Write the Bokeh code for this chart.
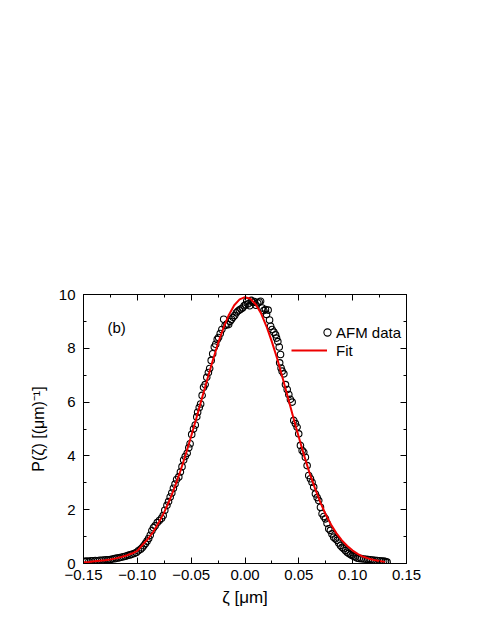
from bokeh.plotting import figure
from bokeh.models import (LinearAxis, FixedTicker, CustomJSTickFormatter, Legend, LegendItem,
                          Range1d, Label)
from bokeh.embed import file_html
from bokeh.resources import INLINE

# ---- data ----
afm_x = [-0.1490, -0.1470, -0.1450, -0.1430, -0.1410, -0.1390, -0.1370, -0.1350, -0.1330, -0.1310,
         -0.1290, -0.1270, -0.1250, -0.1230, -0.1210, -0.1190, -0.1170, -0.1150, -0.1130, -0.1110,
         -0.1090, -0.1070, -0.1050, -0.1030, -0.1010, -0.0990, -0.0970, -0.0955, -0.0940, -0.0925,
         -0.0910, -0.0895, -0.0880, -0.0865, -0.0850, -0.0835, -0.0815, -0.0795, -0.0775, -0.0760,
         -0.0745, -0.0725, -0.0710, -0.0695, -0.0680, -0.0665, -0.0650, -0.0635, -0.0615, -0.0600,
         -0.0585, -0.0570, -0.0555, -0.0537, -0.0522, -0.0510, -0.0495, -0.0478, -0.0462, -0.0448,
         -0.0440, -0.0425, -0.0412, -0.0398, -0.0385, -0.0370, -0.0355, -0.0340, -0.0328, -0.0314,
         -0.0300, -0.0285, -0.0272, -0.0258, -0.0245, -0.0230, -0.0215, -0.0198, -0.0185, -0.0168,
         -0.0152, -0.0138, -0.0125, -0.0110, -0.0095, -0.0080, -0.0066, -0.0052, -0.0038, -0.0022,
         -0.0008, 0.0006, 0.0016, 0.0030, 0.0045, 0.0060, 0.0075, 0.0088, 0.0102, 0.0118,
         0.0132, 0.0145, 0.0160, 0.0175, 0.0190, 0.0200, 0.0215, 0.0228, 0.0238, 0.0252,
         0.0268, 0.0284, 0.0293, 0.0305, 0.0318, 0.0330, 0.0322, 0.0335, 0.0345, 0.0361,
         0.0376, 0.0392, 0.0407, 0.0422, 0.0438, 0.0453, 0.0468, 0.0484, 0.0499, 0.0515,
         0.0531, 0.0546, 0.0561, 0.0577, 0.0592, 0.0608, 0.0623, 0.0638, 0.0654, 0.0670,
         0.0685, 0.0701, 0.0716, 0.0732, 0.0747, 0.0762, 0.0778, 0.0793, 0.0808, 0.0824,
         0.0840, 0.0856, 0.0871, 0.0887, 0.0902, 0.0918, 0.0933, 0.0949, 0.0965, 0.0980,
         0.0995, 0.1010, 0.1025, 0.1041, 0.1060, 0.1080, 0.1103, 0.1125, 0.1145, 0.1165,
         0.1185, 0.1205, 0.1227, 0.1250, 0.1270, 0.1288, 0.1305, 0.1320]
afm_y = [0.08, 0.09, 0.08, 0.10, 0.10, 0.11, 0.10, 0.12, 0.12, 0.13,
         0.14, 0.14, 0.15, 0.17, 0.18, 0.20, 0.21, 0.23, 0.25, 0.27,
         0.30, 0.32, 0.34, 0.37, 0.41, 0.47, 0.53, 0.58, 0.66, 0.74,
         0.83, 0.93, 1.05, 1.22, 1.33, 1.40, 1.52, 1.60, 1.68, 1.78,
         1.98, 2.16, 2.30, 2.47, 2.62, 2.80, 2.95, 3.12, 3.22, 3.40,
         3.60, 3.85, 3.98, 4.10, 4.30, 4.45, 4.80, 5.00, 5.15, 5.45,
         5.62, 5.80, 5.93, 6.25, 6.55, 6.65, 6.92, 7.10, 7.25, 7.55,
         7.80, 8.05, 8.15, 8.33, 8.40, 8.55, 8.70, 9.08, 8.85, 8.90,
         8.88, 9.00, 9.08, 9.15, 9.22, 9.32, 9.38, 9.42, 9.46, 9.50,
         9.58, 9.62, 9.75, 9.65, 9.58, 9.78, 9.70, 9.74, 9.60, 9.69,
         9.72, 9.75, 9.50, 9.40, 9.44, 9.26, 9.42, 9.05, 8.82, 8.70,
         8.60, 8.50, 8.38, 8.25, 8.05, 7.77, 7.46, 7.27, 7.15, 7.05,
         6.65, 6.47, 6.28, 6.10, 6.00, 5.32, 5.20, 5.07, 4.82, 4.39,
         4.20, 4.14, 3.95, 3.64, 3.27, 3.15, 3.02, 2.84, 2.59, 2.45,
         2.34, 2.09, 1.85, 1.75, 1.66, 1.50, 1.29, 1.23, 1.10, 0.98,
         0.92, 0.86, 0.76, 0.67, 0.60, 0.55, 0.48, 0.42, 0.37, 0.33,
         0.30, 0.27, 0.24, 0.20, 0.19, 0.18, 0.17, 0.16, 0.15, 0.14,
         0.13, 0.12, 0.11, 0.10, 0.09, 0.09, 0.07, 0.05]

fit_x = [-0.150, -0.145, -0.140, -0.135, -0.130, -0.125, -0.120, -0.115, -0.110, -0.105,
         -0.100, -0.095, -0.090, -0.085, -0.080, -0.075, -0.070, -0.065, -0.060, -0.055,
         -0.050, -0.045, -0.040, -0.035, -0.030, -0.025, -0.020, -0.015, -0.010, -0.005,
         0.000, 0.005, 0.010, 0.015, 0.020, 0.025, 0.030, 0.035, 0.040, 0.045,
         0.050, 0.055, 0.060, 0.065, 0.070, 0.075, 0.080, 0.085, 0.090, 0.095,
         0.100, 0.105, 0.110, 0.115, 0.120, 0.125, 0.130]
fit_y = [0.05, 0.06, 0.08, 0.10, 0.12, 0.15, 0.19, 0.24, 0.30, 0.37,
         0.47, 0.70, 0.92, 1.19, 1.53, 1.91, 2.36, 2.87, 3.44, 4.06,
         4.73, 5.43, 6.14, 6.85, 7.54, 8.19, 8.76, 9.24, 9.60, 9.82,
         9.90, 9.84, 9.63, 9.29, 8.81, 8.24, 7.60, 6.89, 6.15, 5.41,
         4.69, 4.00, 3.36, 2.79, 2.27, 1.82, 1.44, 1.12, 0.86, 0.65,
         0.48, 0.35, 0.25, 0.18, 0.13, 0.09, 0.06]

x_major = [-0.15, -0.10, -0.05, 0.00, 0.05, 0.10, 0.15]
x_minor = [-0.125, -0.075, -0.025, 0.025, 0.075, 0.125]
y_major = [0, 2, 4, 6, 8, 10]
y_minor = [1, 3, 5, 7, 9]

FONT = "Liberation Sans"

p = figure(width=483, height=627, output_backend="svg", toolbar_location=None,
           x_range=Range1d(-0.15, 0.15), y_range=Range1d(0, 10),
           min_border_left=83, min_border_right=77, min_border_top=294, min_border_bottom=64,
           x_axis_label="ζ [μm]", y_axis_label="P(ζ) [(μm)⁻¹]")
p.xgrid.visible = False
p.ygrid.visible = False
p.outline_line_color = "black"
p.outline_line_width = 1
p.background_fill_color = "white"
p.border_fill_color = "white"

xticker = FixedTicker(ticks=x_major, minor_ticks=x_minor)
yticker = FixedTicker(ticks=y_major, minor_ticks=y_minor)
xfmt = CustomJSTickFormatter(code="return (tick < -1e-9 ? '\u2212' : '') + Math.abs(tick).toFixed(2);")
yfmt = CustomJSTickFormatter(code="return Math.round(tick).toString();")

def style(ax, show_labels):
    ax.major_tick_in = 6
    ax.major_tick_out = 0
    ax.minor_tick_in = 3
    ax.minor_tick_out = 0
    ax.axis_line_color = "black"
    ax.major_tick_line_color = "black"
    ax.minor_tick_line_color = "black"
    ax.major_label_text_font = FONT
    ax.major_label_text_font_size = "15px"
    ax.major_label_text_color = "black" if show_labels else None
    ax.axis_label_text_font = FONT
    ax.axis_label_text_font_size = "16px"
    ax.axis_label_text_font_style = "normal"
    ax.axis_label_text_color = "black"

xa = p.xaxis[0]
xa.ticker = xticker
xa.formatter = xfmt
style(xa, True)
xa.major_label_standoff = 6
xa.axis_label_standoff = 5
xa.axis_label_text_font_size = "17px"

ya = p.yaxis[0]
ya.ticker = yticker
ya.formatter = yfmt
style(ya, True)
ya.major_label_standoff = 8
ya.axis_label_standoff = 9

top = LinearAxis(ticker=xticker, formatter=xfmt)
style(top, False)
top.major_label_text_font_size = "1px"
p.add_layout(top, "above")
right = LinearAxis(ticker=yticker, formatter=yfmt)
style(right, False)
right.major_label_text_font_size = "1px"
p.add_layout(right, "right")

pts = p.scatter(afm_x, afm_y, marker="circle", size=6.5, fill_color=None,
                line_color="black", line_width=1.1)
fit = p.line(fit_x, fit_y, line_color="#ee0000", line_width=2)

p.add_layout(Label(x=-0.1277, y=8.77, text="(b)", text_font=FONT, text_font_size="15px",
                   text_baseline="middle", text_align="left", text_color="black"))

common = dict(orientation="vertical", glyph_height=18, label_height=18, spacing=0,
              padding=0, margin=0, label_text_font=FONT, label_text_font_size="15px",
              label_text_color="black", border_line_color=None, background_fill_alpha=0)
legend_data = Legend(items=[LegendItem(label="AFM data", renderers=[pts])],
                     location=(235, 222), glyph_width=18, label_standoff=0, **common)
legend_fit = Legend(items=[LegendItem(label="Fit", renderers=[fit])],
                    location=(208, 204), glyph_width=36, label_standoff=9, **common)
p.add_layout(legend_data, "center")
p.add_layout(legend_fit, "center")

open("out.html", "w").write(file_html(p, INLINE))
